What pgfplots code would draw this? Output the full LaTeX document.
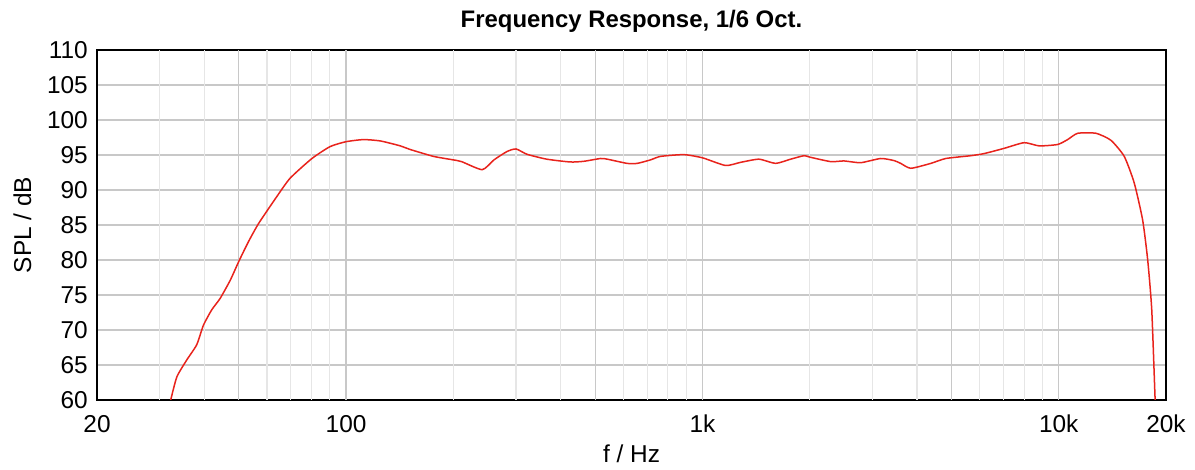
\documentclass[border=0pt]{standalone}
\usepackage{fontspec}
\setmainfont{Liberation Sans}
\usepackage{pgfplots}
\pgfplotsset{compat=1.18}
\definecolor{curvered}{HTML}{E8231C}
\definecolor{gridmaj}{HTML}{C8C8C8}
\definecolor{gridmin}{HTML}{E6E6E6}
\begin{document}
\begin{tikzpicture}[x=1bp,y=1bp]
\path[use as bounding box] (0,0) rectangle (1195,470);
\begin{axis}[
  at={(97bp,70bp)}, anchor=south west,
  scale only axis, width=1069bp, height=350bp,
  xmode=log, xmin=20, xmax=20000, ymin=60, ymax=110,
  xtick={20,100,1000,10000,20000},
  xticklabels={20,100,1k,10k,20k},
  minor xtick={},
  ytick={60,65,...,110},
  yticklabels={60,65,70,75,80,85,90,95,100,105,110},
  major tick length=0pt, minor tick length=0pt,
  ymajorgrids,
  major grid style={gridmaj, line width=1.2bp},
  axis line style={black, line width=1.6bp},
  tick label style={font=\fontsize{24.5}{28}\selectfont},
  xticklabel style={anchor=base, yshift=-33bp, inner sep=0pt},
  yticklabel style={anchor=east, xshift=-9bp, inner sep=0pt},
  /pgf/number format/assume math mode=true,
  title={Frequency Response, 1/6 Oct.},
  title style={font=\fontsize{24}{28}\selectfont\bfseries, at={(axis description cs:0.5,1)}, anchor=base, yshift=17bp, inner sep=0pt},
  xlabel={f / Hz},
  xlabel style={font=\fontsize{24.5}{28}\selectfont, at={(axis description cs:0.5,0)}, anchor=base, yshift=-63bp, inner sep=0pt},
  ylabel={SPL / dB},
  ylabel style={font=\fontsize{24.5}{28}\selectfont, at={(axis description cs:-0.0617,0.5)}, anchor=base, rotate=0, inner sep=0pt},
  clip=true,
]
\pgfplotsinvokeforeach{30,40,60,70,80,90,200,300,400,600,700,800,900,2000,3000,4000,6000,7000,8000,9000}{
  \draw[gridmin, line width=1.2bp] (axis cs:#1,60) -- (axis cs:#1,110);
}
\pgfplotsinvokeforeach{50,100,500,1000,5000,10000}{
  \draw[gridmaj, line width=1.2bp] (axis cs:#1,60) -- (axis cs:#1,110);
}
\addplot[curvered, line width=1.5bp, smooth, tension=0.35] coordinates {
(32.2,60.0) (33.5,63.3) (35.7,65.7) (38.1,67.9) (39.8,70.7) (42.0,72.9)
(44.3,74.5) (47.3,77.1) (50,79.8) (53.2,82.6) (56.8,85.2) (64,89.1)
(69.7,91.7) (80.2,94.5) (90.2,96.2) (100,96.9) (112,97.2) (125,97.0)
(142,96.3) (151,95.8) (176,94.8) (200,94.3) (211,94.05) (241,92.9)
(260,94.3) (283,95.5) (300,95.86) (322,95.1) (366,94.4) (426,94.0)
(465,94.1) (518,94.5) (541,94.4) (615,93.8) (656,93.8) (715,94.3)
(763,94.8) (887,95.05) (1000,94.6) (1161,93.5) (1280,93.95) (1441,94.4)
(1605,93.8) (1768,94.4) (1928,94.9) (2000,94.7) (2292,94.05) (2496,94.15)
(2781,93.9) (3166,94.5) (3450,94.2) (3602,93.8) (3844,93.1) (4375,93.8)
(4820,94.5) (5665,94.9) (6176,95.2) (7028,95.95) (8000,96.76) (8813,96.3)
(9927,96.5) (10590,97.2) (11300,98.1) (12720,98.1) (14010,97.1) (15270,94.8)
(16290,91.0) (17200,85.7) (17770,80.0) (18240,72.9) (18630,60.5) (18700,59.0)
};
\end{axis}
\end{tikzpicture}
\end{document}
